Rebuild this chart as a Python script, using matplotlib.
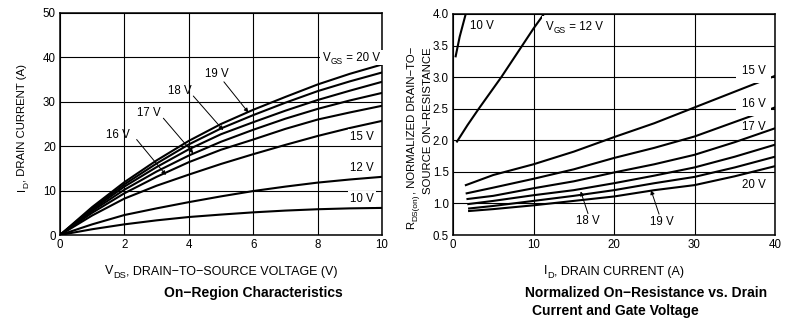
import matplotlib

matplotlib.use("Agg")
import matplotlib.pyplot as plt
from matplotlib.patches import Rectangle
from matplotlib.ticker import FormatStrFormatter
from matplotlib.transforms import IdentityTransform

plt.rcParams["font.family"] = ["Liberation Sans", "DejaVu Sans"]

# On-region characteristics: I_D (A) vs V_DS (V), one curve per V_GS
vds = [0, 1, 2, 3, 4, 5, 6, 7, 8, 9, 10]
id_20v = [0, 6.3, 11.9, 16.8, 21.2, 25.0, 28.2, 31.1, 33.9, 36.3, 38.4]
id_19v = [0, 6.0, 11.4, 16.1, 20.4, 24.0, 27.0, 29.8, 32.4, 34.6, 36.6]
id_18v = [0, 5.7, 10.9, 15.3, 19.3, 22.7, 25.4, 28.0, 30.4, 32.5, 34.5]
id_17v = [0, 5.4, 10.2, 14.3, 17.9, 21.0, 23.7, 26.2, 28.4, 30.3, 32.0]
id_16v = [0, 5.0, 9.4, 13.1, 16.4, 19.2, 21.5, 23.9, 26.0, 27.6, 29.1]
id_15v = [0, 4.4, 8.2, 11.1, 13.6, 16.0, 18.2, 20.3, 22.3, 24.1, 25.7]
id_12v = [0, 2.4, 4.5, 6.0, 7.4, 8.7, 9.9, 10.9, 11.8, 12.5, 13.1]
id_10v = [0, 1.3, 2.4, 3.3, 4.05, 4.6, 5.1, 5.5, 5.8, 6.0, 6.1]

# Normalized R_DS(on) vs I_D (A)
r10_id = [0.33, 0.83, 1.58]
r10 = [3.33, 3.64, 4.0]
r12_id = [0.5, 1.8, 3.2, 6.0, 8.6, 10.0, 11.3]
r12 = [1.98, 2.24, 2.5, 3.0, 3.5, 3.77, 4.0]
rds_id_15v = [1.6, 5, 10, 15, 20, 25, 30, 35, 40]
rds_15v = [1.29, 1.45, 1.62, 1.82, 2.05, 2.27, 2.52, 2.77, 3.02]
rds_id_16v = [1.7, 5, 10, 15, 20, 25, 30, 35, 40]
rds_16v = [1.16, 1.25, 1.39, 1.54, 1.72, 1.88, 2.06, 2.29, 2.52]
rds_id_17v = [1.8, 5, 10, 15, 20, 25, 30, 35, 40]
rds_17v = [1.07, 1.12, 1.24, 1.35, 1.49, 1.62, 1.77, 1.97, 2.19]
rds_id_18v = [1.9, 5, 10, 15, 20, 25, 30, 35, 40]
rds_18v = [0.99, 1.04, 1.13, 1.21, 1.32, 1.44, 1.57, 1.74, 1.93]
rds_id_19v = [2.0, 5, 10, 15, 20, 25, 30, 35, 40]
rds_19v = [0.92, 0.96, 1.04, 1.12, 1.21, 1.32, 1.42, 1.57, 1.74]
rds_id_20v = [2.0, 5, 10, 15, 20, 25, 30, 35, 40]
rds_20v = [0.88, 0.91, 0.97, 1.04, 1.11, 1.21, 1.29, 1.43, 1.59]

W, H = 788, 323
PT = 100 / 72  # pixels per point
FS = 8.3       # tick labels and curve labels
FS_X = 9       # x axis titles
FS_Y = 8.2     # y axis titles
FS_T = 10      # captions under each chart
LW = 1.5
ARROW = dict(arrowstyle="-|>", lw=0.7, color="k", mutation_scale=6, shrinkA=0, shrinkB=0)
BOX = dict(boxstyle="square,pad=0.15", fc="white", ec="none")

fig = plt.figure(figsize=(W / 100, H / 100), dpi=100)
fig.patch.set_facecolor("white")
renderer = fig.canvas.get_renderer()


def text_width(s, size):
    # advance width in px, spaces included
    t = fig.text(0, 0, "x" + s + "x", fontsize=size)
    w = t.get_window_extent(renderer).width
    t.remove()
    t = fig.text(0, 0, "xx", fontsize=size)
    w -= t.get_window_extent(renderer).width
    t.remove()
    return w


def sub_text(x, y, parts, size, ha="left", vertical=False, box=None):
    """Draw text with real-size subscripts at display pixel (x, y).

    parts is a list of (string, is_subscript); y (or x when vertical) is the
    vertical centre of the capitals.
    """
    sub_size = size * 0.74
    sub_drop = size * PT * 0.28
    widths = [text_width(s, sub_size if sub else size) for s, sub in parts]
    total = sum(widths)
    cap = size * PT * 0.72
    if vertical:
        base = x + cap / 2
        pos = y - {"left": 0, "center": total / 2, "right": total}[ha]
    else:
        base = y - cap / 2
        pos = x - {"left": 0, "center": total / 2, "right": total}[ha]
    if box is not None:
        px, py = box
        if vertical:
            rect = (base - cap - py, pos - px, cap + 2 * py, total + 2 * px)
        else:
            rect = (pos - px, base - py - 1, total + 2 * px, cap + 2 * py + 1)
        fig.add_artist(Rectangle(rect[:2], rect[2], rect[3], fc="white", ec="none",
                                 transform=IdentityTransform(), zorder=2.5))
    for (s, sub), w in zip(parts, widths):
        off = sub_drop if sub else 0
        fs = sub_size if sub else size
        if vertical:
            fig.text(base + off, pos, s, fontsize=fs, rotation=90, rotation_mode="anchor",
                     ha="left", va="baseline", transform=IdentityTransform(), zorder=3)
        else:
            fig.text(pos, base - off, s, fontsize=fs, ha="left", va="baseline",
                     transform=IdentityTransform(), zorder=3)
        pos += w


def style_axes(ax):
    ax.grid(True, color="black", lw=0.8)
    ax.set_axisbelow(True)
    ax.tick_params(length=0, pad=3, labelsize=FS)
    for sp in ax.spines.values():
        sp.set_linewidth(1.1)


# --- left: on-region characteristics ---
ax1 = fig.add_axes([60 / W, 1 - 235 / H, 322 / W, 222 / H])
for y in (id_20v, id_19v, id_18v, id_17v, id_16v, id_15v, id_12v, id_10v):
    ax1.plot(vds, y, color="black", lw=LW)
ax1.set_xlim(0, 10)
ax1.set_ylim(0, 50)
ax1.set_xticks([0, 2, 4, 6, 8, 10])
ax1.set_yticks([0, 10, 20, 30, 40, 50])
style_axes(ax1)

px, py = ax1.transData.transform((9.94, 40.1))
sub_text(px, py, [("V", False), ("GS", True), (" = 20 V", False)], FS, ha="right", box=(3, 3))
ax1.text(9.75, 22.1, "15 V", fontsize=FS, ha="right", va="center", bbox=BOX)
ax1.text(9.75, 15.1, "12 V", fontsize=FS, ha="right", va="center", bbox=BOX)
ax1.text(9.75, 8.1, "10 V", fontsize=FS, ha="right", va="center", bbox=BOX)

ax1.text(4.87, 36.3, "19 V", fontsize=FS, ha="center", va="center")
ax1.annotate("", xy=(5.85, 27.6), xytext=(5.09, 34.5), arrowprops=ARROW)
ax1.text(3.73, 32.4, "18 V", fontsize=FS, ha="center", va="center")
ax1.annotate("", xy=(5.07, 23.6), xytext=(4.14, 31.3), arrowprops=ARROW)
ax1.text(2.76, 27.4, "17 V", fontsize=FS, ha="center", va="center")
ax1.annotate("", xy=(4.14, 18.4), xytext=(3.21, 26.3), arrowprops=ARROW)
ax1.text(1.81, 22.5, "16 V", fontsize=FS, ha="center", va="center")
ax1.annotate("", xy=(3.29, 13.5), xytext=(2.38, 21.5), arrowprops=ARROW)

sub_text(221, H - 270, [("V", False), ("DS", True), (", DRAIN\u2212TO\u2212SOURCE VOLTAGE (V)", False)],
         FS_X, ha="center")
sub_text(21, H - 127.5, [("I", False), ("D", True), (", DRAIN CURRENT (A)", False)],
         FS_Y, ha="center", vertical=True)
fig.text(253 / W, 1 - 293 / H, "On\u2212Region Characteristics",
         fontsize=FS_T, fontweight="bold", ha="center", va="center")

# --- right: normalized on-resistance ---
ax2 = fig.add_axes([453 / W, 1 - 235 / H, 322 / W, 221 / H])
ax2.plot(r10_id, r10, color="black", lw=LW)
ax2.plot(r12_id, r12, color="black", lw=LW)
for xs, ys in ((rds_id_15v, rds_15v), (rds_id_16v, rds_16v), (rds_id_17v, rds_17v),
               (rds_id_18v, rds_18v), (rds_id_19v, rds_19v), (rds_id_20v, rds_20v)):
    ax2.plot(xs, ys, color="black", lw=LW)
ax2.set_xlim(0, 40)
ax2.set_ylim(0.5, 4.0)
ax2.set_xticks([0, 10, 20, 30, 40])
ax2.set_yticks([0.5, 1.0, 1.5, 2.0, 2.5, 3.0, 3.5, 4.0])
ax2.yaxis.set_major_formatter(FormatStrFormatter("%.1f"))
style_axes(ax2)

ax2.text(2.1, 3.81, "10 V", fontsize=FS, ha="left", va="center")
px, py = ax2.transData.transform((11.6, 3.81))
sub_text(px, py, [("V", False), ("GS", True), (" = 12 V", False)], FS, ha="left", box=(4, 6))
ax2.text(38.8, 3.09, "15 V", fontsize=FS, ha="right", va="center",
         bbox=dict(boxstyle="square,pad=0.5", fc="white", ec="none"))
ax2.text(38.8, 2.57, "16 V", fontsize=FS, ha="right", va="center",
         bbox=dict(boxstyle="square,pad=0.5", fc="white", ec="none"))
ax2.text(38.8, 2.21, "17 V", fontsize=FS, ha="right", va="center")
ax2.text(38.8, 1.29, "20 V", fontsize=FS, ha="right", va="center")
ax2.text(16.8, 0.72, "18 V", fontsize=FS, ha="center", va="center")
ax2.annotate("", xy=(15.86, 1.19), xytext=(16.77, 0.84), arrowprops=ARROW)
ax2.text(25.9, 0.71, "19 V", fontsize=FS, ha="center", va="center")
ax2.annotate("", xy=(24.6, 1.21), xytext=(25.6, 0.83), arrowprops=ARROW)

sub_text(614, H - 270, [("I", False), ("D", True), (", DRAIN CURRENT (A)", False)],
         FS_X, ha="center")
sub_text(410, H - 47, [("R", False), ("DS(on)", True), (", NORMALIZED DRAIN\u2212TO\u2212", False)],
         FS_Y, ha="right", vertical=True)
sub_text(426.5, H - 47, [("SOURCE ON\u2212RESISTANCE", False)], FS_Y, ha="right", vertical=True)
fig.text(525 / W, 1 - 293 / H, "Normalized On\u2212Resistance vs. Drain",
         fontsize=FS_T, fontweight="bold", ha="left", va="center")
fig.text(532 / W, 1 - 311 / H, "Current and Gate Voltage",
         fontsize=FS_T, fontweight="bold", ha="left", va="center")

fig.savefig("out.png", dpi=100, facecolor="white")
